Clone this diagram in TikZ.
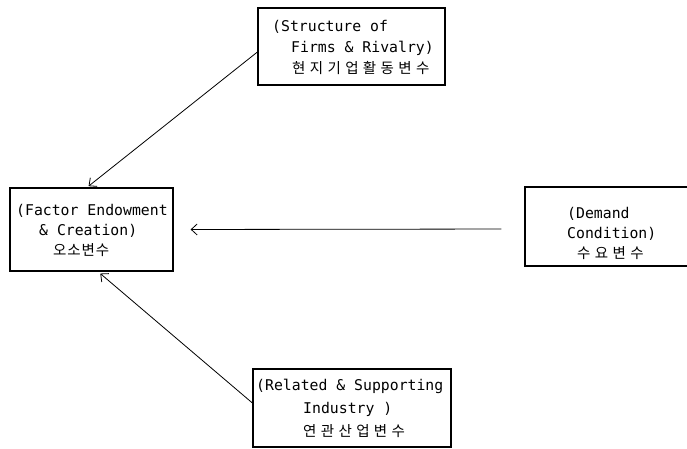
\documentclass[tikz,border=0pt]{standalone}
\usepackage{fontspec}
\setmonofont{DejaVu Sans Mono}
\newfontfamily\kr{Noto Sans CJK KR}
\usetikzlibrary{arrows.meta,calc}
\begin{document}
\begin{tikzpicture}[x=1pt,y=-1pt,
  box/.style={draw,line width=1.2pt,rectangle,inner sep=0pt},
  txt/.style={anchor=base west,inner sep=0pt,font=\ttfamily\fontsize{14.8}{16}\selectfont},
  krtxt/.style={anchor=base west,inner sep=0pt,font=\kr\fontsize{14.5}{16}\selectfont},
  conn/.style={line width=0.8pt,-{Straight Barb[length=6pt,width=11pt]}}]
\useasboundingbox (0,0) rectangle (687,449);
\clip (0,0) rectangle (687,449);
% boxes
\node[box,minimum width=187pt,minimum height=77pt] (str) at (351.5,46.5) {};
\node[box,minimum width=163pt,minimum height=83pt] (fac) at (91.5,229.5) {};
\node[box,minimum width=175pt,minimum height=79pt] (dem) at (612.5,226.5) {};
\node[box,minimum width=198pt,minimum height=78pt] (rel) at (352,408) {};
% texts
\node[txt] (s1) at (272,32) {(Structure of};
\node[txt] (s2) at (291,53) {Firms \& Rivalry)};
\node[krtxt] (s3) at (292,74) {\addfontfeature{LetterSpace=30}현지기업활동변수};
\node[txt] (f1) at (16,215) {(Factor Endowment};
\node[txt] (f2) at (39,235) {\& Creation)};
\node[krtxt] (f3) at (53,255) {\addfontfeature{LetterSpace=6}오소변수};
\node[txt] (d1) at (567,218) {(Demand};
\node[txt] (d2) at (567,238) {Condition)};
\node[krtxt] (d3) at (577,258) {\addfontfeature{LetterSpace=30}수요변수};
\node[txt] (r1) at (256,390) {(Related \& Supporting};
\node[txt] (r2) at (303,413) {Industry )};
\node[krtxt] (r3) at (303,436) {\addfontfeature{LetterSpace=30}연관산업변수};
% connectors
\draw[conn,shorten >=2pt] ($(str.west)+(0,5.5)$) -- ($(fac.north)+(-4.5,0)$);
\draw[conn,shorten <=23pt,shorten >=17pt] ($(dem.west)+(0,2.5)$) -- (fac.east);
\draw[conn,shorten >=3pt] ($(rel.west)+(0,-5)$) -- ($(fac.south)+(6.5,0)$);
\end{tikzpicture}
\end{document}
